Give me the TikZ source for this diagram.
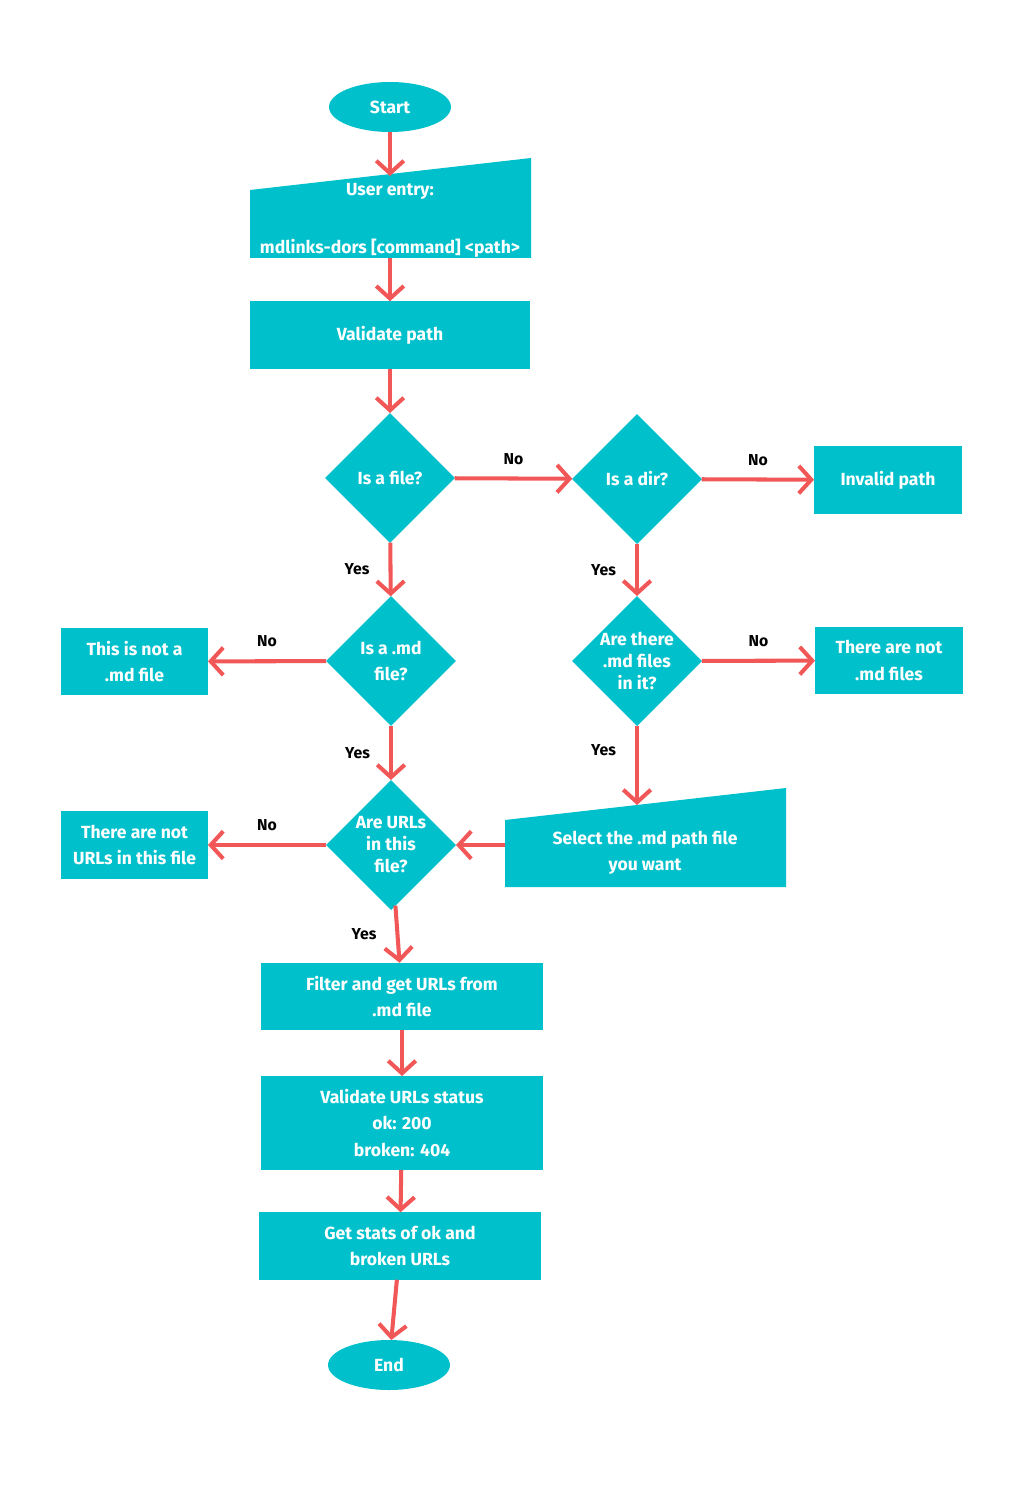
\documentclass[tikz,border=0pt]{standalone}
\usepackage{fontspec}
\setmainfont{Fira Sans}
\usetikzlibrary{positioning,shapes.geometric,arrows.meta}
\definecolor{tealbox}{HTML}{00C1CB}
\definecolor{redarrow}{HTML}{F25757}

\begin{document}
\begin{tikzpicture}
[x=0.02cm,y=-0.02cm,
 every node/.style={font=\bfseries\fontsize{10}{15}\selectfont,inner sep=0mm,outer sep=0mm},
 term/.style={ellipse,fill=tealbox,text=white,minimum width=2.44cm,minimum height=1cm},
 box/.style={rectangle,fill=tealbox,text=white,align=center,minimum height=1.35cm},
 dec/.style={diamond,fill=tealbox,minimum width=2.6cm,minimum height=2.6cm},
 txt/.style={text=white,align=center},
 ans/.style={text=black,font=\bfseries\fontsize{9}{11}\selectfont},
 flow/.style={draw=redarrow,line width=2.3pt,-{Straight Barb[length=2.5mm,width=5.5mm,line width=2.3pt]}}]
\useasboundingbox (0,0) rectangle (1024,1500);

% nodes
\node[term] (start) at (390,107) {Start};
\fill[tealbox] (250,190) -- (531,158) -- (531,258) -- (250,258) -- cycle;
\coordinate (entrytop) at (390,176);
\coordinate (entrybot) at (390,258);
\node[txt,font=\bfseries\fontsize{10}{33}\selectfont] (entry) at (390,220) {User entry:\\mdlinks-dors [command] <path>};
\node[box,minimum width=5.62cm] (valpath) at (390,335) {Validate path};
\node[dec] (isfile) at (390,478) {};
\node[txt] at (isfile) {Is a file?};
\node[dec] (isdir) at (637,479) {};
\node[txt] at (isdir) {Is a dir?};
\node[box,minimum width=2.96cm] (invalid) at (888,480) {Invalid path};
\node[dec] (ismd) at (391,661) {};
\node[txt] at (ismd) {Is a .md\\file?};
\node[dec] (arethere) at (637,661) {};
\node[txt,font=\bfseries\fontsize{10}{12.5}\selectfont] at (arethere) {Are there\\.md files\\in it?};
\node[box,minimum width=2.94cm] (notmd) at (134.5,661.5) {This is not a\\.md file};
\node[box,minimum width=2.96cm] (nomdfiles) at (889,660.5) {There are not\\.md files};
\node[dec] (areurls) at (391,845) {};
\node[txt,font=\bfseries\fontsize{10}{12.5}\selectfont] at (areurls) {Are URLs\\in this\\file?};
\node[box,minimum width=2.94cm] (nourls) at (134.5,845) {There are not\\URLs in this file};
\fill[tealbox] (505,820) -- (786,788) -- (786,887) -- (505,887) -- cycle;
\coordinate (selecttop) at (637,805);
\node[txt] (select) at (645,853) {Select the .md path file\\you want};
\coordinate (selectleft) at (505,845);
\node[box,minimum width=5.64cm] (filter) at (402,996.5) {Filter and get URLs from\\.md file};
\node[box,minimum width=5.64cm,minimum height=1.88cm] (valurls) at (402,1123) {Validate URLs status\\ok: 200\\broken: 404};
\node[box,minimum width=5.64cm] (stats) at (400,1246) {Get stats of ok and\\broken URLs};
\node[term] (end) at (389,1365) {End};

% connectors
\path[flow] (start) -- (entrytop);
\path[flow] (entrybot) -- (valpath);
\path[flow] (valpath) -- (isfile);
\path[flow] (isfile) -- node[ans,above=8pt] {No} (isdir);
\path[flow] (isdir) -- node[ans,above=8pt] {No} (invalid);
\path[flow] (isfile) -- node[ans,left=12pt] {Yes} (ismd);
\path[flow] (isdir) -- node[ans,left=12pt] {Yes} (arethere);
\path[flow] (ismd) -- node[ans,above=8pt] {No} (notmd);
\path[flow] (arethere) -- node[ans,above=8pt] {No} (nomdfiles);
\path[flow] (ismd) -- node[ans,left=12pt] {Yes} (areurls);
\path[flow] (arethere) -- node[ans,left=12pt,pos=0.3] {Yes} (selecttop);
\path[flow] (selectleft) -- (areurls);
\path[flow] (areurls) -- node[ans,above=8pt] {No} (nourls);
\path[flow] (areurls) -- node[ans,left=12pt] {Yes} (filter);
\path[flow] (filter) -- (valurls);
\path[flow] (valurls) -- (stats);
\path[flow] (stats) -- (end);
\end{tikzpicture}
\end{document}
